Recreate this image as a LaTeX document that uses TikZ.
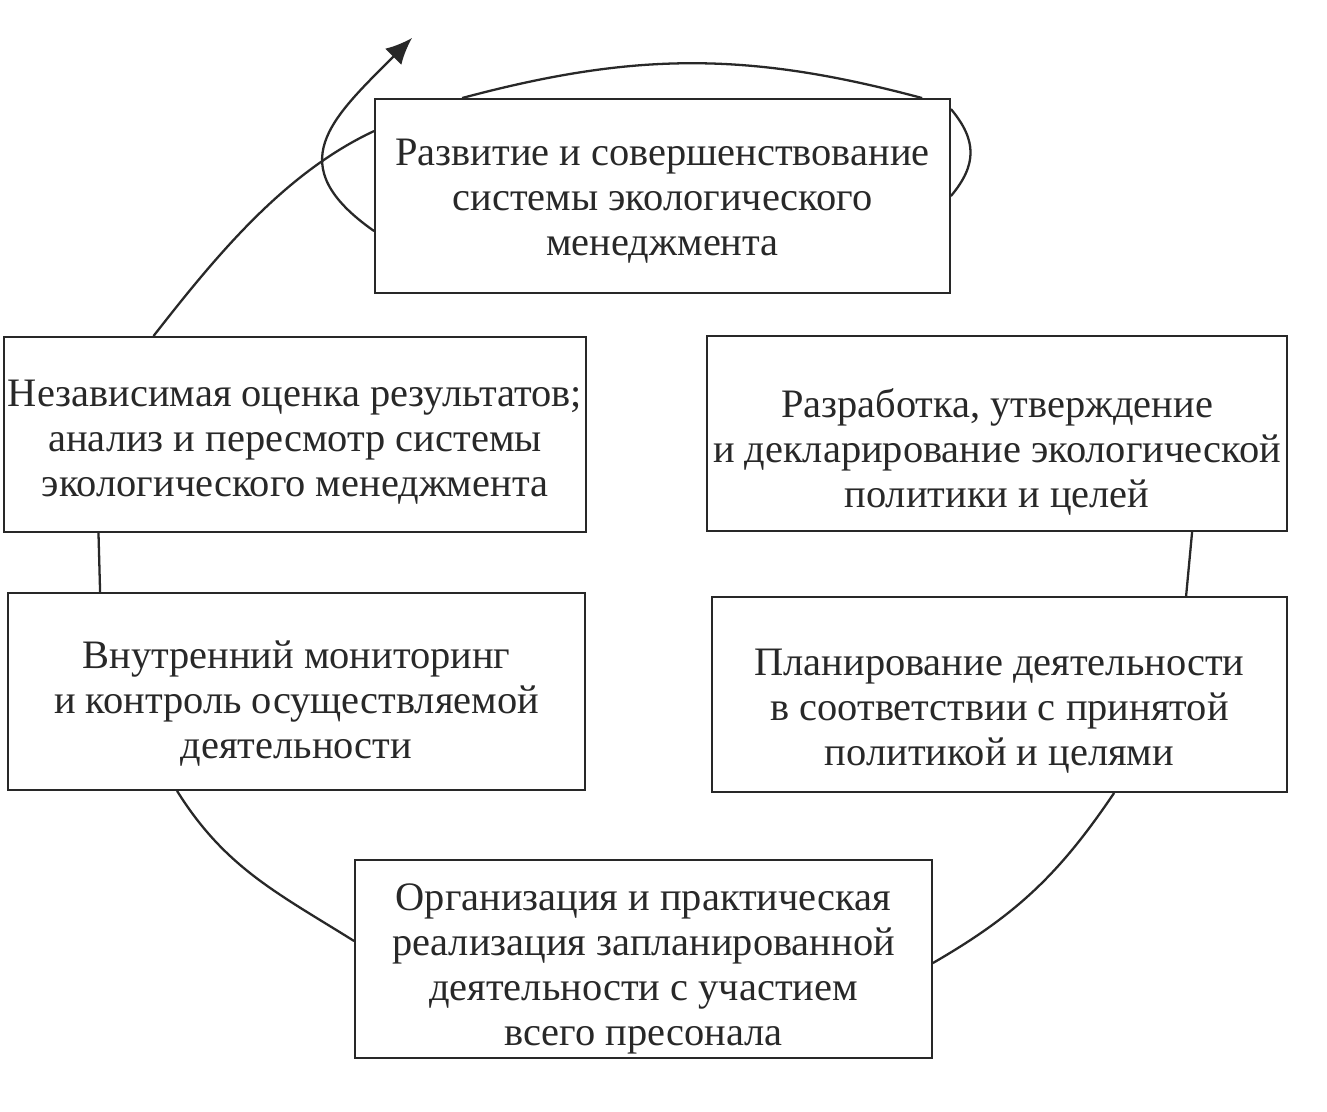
\documentclass[tikz,border=0pt]{standalone}
\usepackage{fontspec}
\setmainfont{Liberation Serif}
\definecolor{inkgray}{RGB}{40,40,40}
\usetikzlibrary{arrows.meta, calc}
\newcommand{\dropline}[1]{\rule{0pt}{#1}}

\begin{document}
\begin{tikzpicture}[x=0.02cm, y=-0.02cm,
  stage/.style={draw=inkgray, line width=1.1pt, fill=white, text=inkgray, align=center, inner sep=2pt, font=\fontsize{23}{25.6}\selectfont},
  flow/.style={draw=inkgray, line width=1.3pt}]
  \useasboundingbox[fill=white] (0,0) rectangle (1327,1111);

  % Stages of the cycle
  \node[stage, minimum width=11.5cm, minimum height=3.88cm] (devel) at (662.5,196) {\dropline{0.75cm}Развитие и совершенствование\\системы экологического\\менеджмента};
  \node[stage, minimum width=11.6cm, minimum height=3.9cm] (review) at (295,434.5) {\dropline{0.83cm}Независимая оценка результатов;\\анализ и пересмотр системы\\экологического менеджмента};
  \node[stage, minimum width=11.6cm, minimum height=3.9cm] (policy) at (997,433.5) {\dropline{1.31cm}Разработка, утверждение\\и декларирование экологической\\политики и целей};
  \node[stage, minimum width=11.54cm, minimum height=3.94cm] (monitor) at (296.5,691.5) {\dropline{1.03cm}Внутренний мониторинг\\и контроль осуществляемой\\деятельности};
  \node[stage, minimum width=11.5cm, minimum height=3.9cm] (plan) at (999.5,694.5) {\dropline{1.19cm}Планирование деятельности\\в соответствии с принятой\\политикой и целями};
  \node[stage, minimum width=11.54cm, minimum height=3.84cm] (impl) at (643.5,959) {\dropline{0.95cm}Организация и практическая\\реализация запланированной\\деятельности с участием\\всего пресонала};

  % Cycle arcs
  \draw[flow] ($(review.north west)+(150,0)$) to[out=52, in=205, looseness=0.85] ($(devel.north west)+(0,33)$);
  \draw[flow] ($(review.south west)+(95,0)$) -- ($(monitor.north west)+(93,0)$);
  \draw[flow] ($(monitor.south west)+(170,0)$) to[out=-58, in=148] ($(impl.north west)+(0,82)$);
  \draw[flow] ($(impl.north east)+(0,104)$) to[out=30, in=236] ($(plan.south west)+(403,0)$);
  \draw[flow] ($(policy.south west)+(486,0)$) -- ($(plan.north west)+(475,0)$);

  % Spiral round the top stage
  \coordinate (tip) at (412,38);
  \draw[flow] ($(devel.north west)+(88,0)$) to[out=15, in=165] ($(devel.north west)+(548,0)$);
  \draw[flow] ($(devel.north east)+(0,11)$) to[out=-50, in=50, looseness=1.2] ($(devel.north east)+(0,98)$);
  \draw[flow, -{Latex[length=15pt, width=13pt]}] ($(devel.north west)+(0,133)$) to[out=145, in=225, looseness=1.5] (tip);
\end{tikzpicture}
\end{document}
